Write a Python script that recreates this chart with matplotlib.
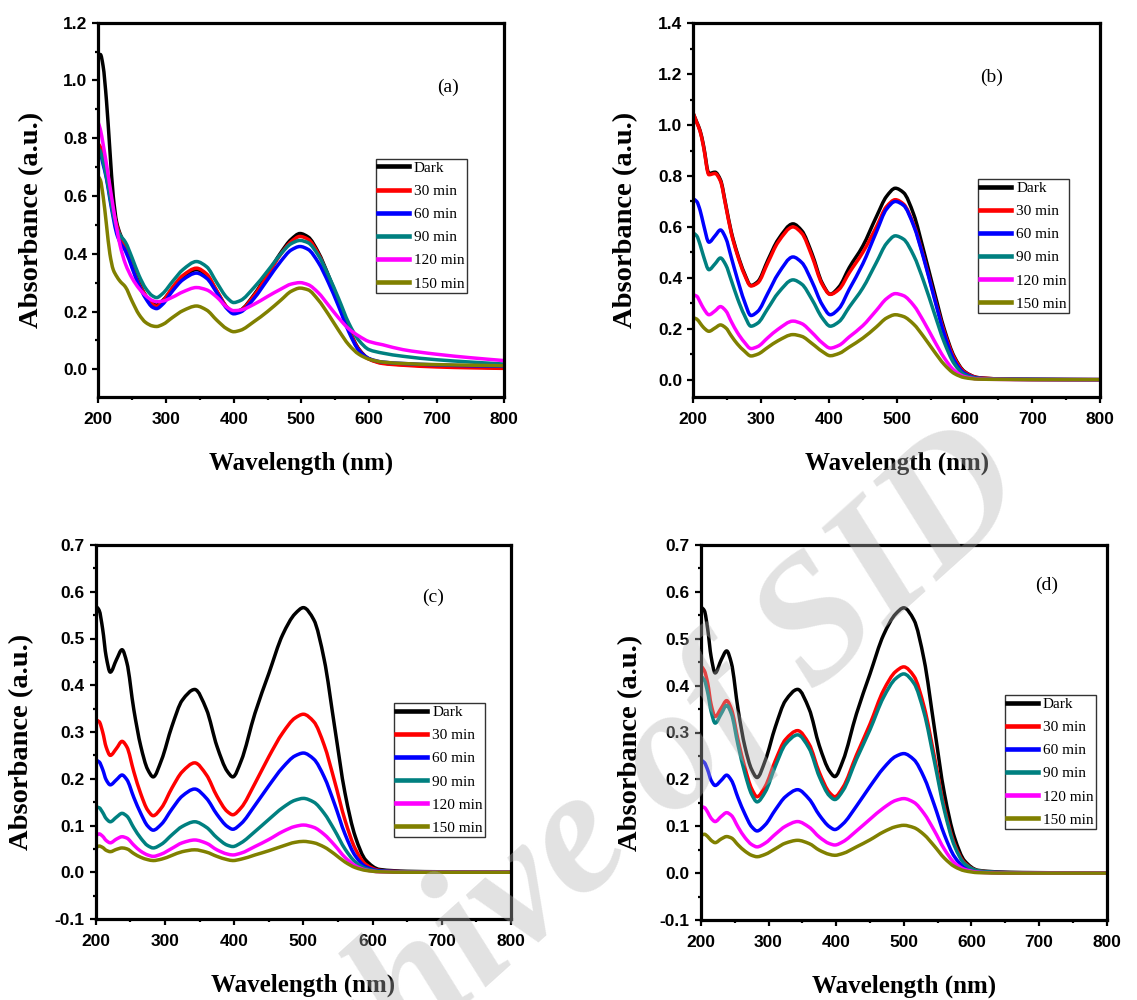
import numpy as np
import matplotlib
matplotlib.use("Agg")
import matplotlib.pyplot as plt
from matplotlib.lines import Line2D
from matplotlib.patches import PathPatch
from matplotlib.path import Path
from matplotlib.ticker import MultipleLocator

# ---- data ----
LABELS = ["Dark", "30 min", "60 min", "90 min", "120 min", "150 min"]
COLORS = ["#000000", "#ff0000", "#0000ff", "#008080", "#ff00ff", "#808000"]

# panel (a)
wl_a = [200, 203, 207, 212, 217, 222, 227, 232, 240, 250, 260, 270, 280, 286, 295,
        310, 325, 345, 360, 375, 390, 400, 410, 430, 450, 470, 485, 498, 510, 525,
        540, 555, 570, 585, 600, 620, 650, 700, 750, 800]
dark_a = [1.085, 1.09, 1.05, 0.93, 0.76, 0.60, 0.51, 0.47, 0.43, 0.36, 0.30, 0.255, 0.228, 0.222, 0.238,
          0.280, 0.318, 0.345, 0.325, 0.270, 0.215, 0.198, 0.205, 0.258, 0.330, 0.405, 0.450, 0.470, 0.458, 0.405,
          0.325, 0.235, 0.140, 0.070, 0.036, 0.022, 0.016, 0.011, 0.008, 0.005]
m30_a = [0.78, 0.77, 0.74, 0.69, 0.62, 0.55, 0.50, 0.465, 0.425, 0.355, 0.295, 0.255, 0.225, 0.218, 0.235,
         0.285, 0.325, 0.350, 0.330, 0.272, 0.215, 0.196, 0.203, 0.255, 0.325, 0.400, 0.442, 0.460, 0.450, 0.400,
         0.320, 0.232, 0.138, 0.068, 0.035, 0.020, 0.014, 0.008, 0.005, 0.003]
m60_a = [0.755, 0.745, 0.71, 0.66, 0.59, 0.525, 0.47, 0.44, 0.41, 0.35, 0.29, 0.245, 0.215, 0.210, 0.225,
         0.272, 0.310, 0.333, 0.315, 0.265, 0.210, 0.192, 0.198, 0.245, 0.310, 0.375, 0.413, 0.425, 0.415, 0.370,
         0.300, 0.218, 0.130, 0.065, 0.037, 0.025, 0.020, 0.015, 0.012, 0.010]
m90_a = [0.766, 0.755, 0.72, 0.665, 0.60, 0.535, 0.49, 0.465, 0.440, 0.385, 0.325, 0.280, 0.254, 0.248, 0.262,
         0.305, 0.345, 0.373, 0.355, 0.300, 0.248, 0.231, 0.238, 0.283, 0.340, 0.400, 0.435, 0.446, 0.438, 0.395,
         0.325, 0.245, 0.160, 0.100, 0.068, 0.056, 0.045, 0.033, 0.025, 0.018]
m120_a = [0.853, 0.830, 0.78, 0.71, 0.635, 0.56, 0.49, 0.43, 0.365, 0.315, 0.280, 0.255, 0.238, 0.234, 0.236,
          0.250, 0.268, 0.283, 0.275, 0.250, 0.215, 0.203, 0.205, 0.225, 0.252, 0.278, 0.295, 0.300, 0.293, 0.265,
          0.222, 0.178, 0.140, 0.115, 0.096, 0.085, 0.068, 0.052, 0.040, 0.030]
m150_a = [0.667, 0.655, 0.60, 0.50, 0.40, 0.345, 0.322, 0.305, 0.285, 0.235, 0.190, 0.162, 0.150, 0.148, 0.155,
          0.180, 0.203, 0.219, 0.205, 0.170, 0.140, 0.130, 0.135, 0.165, 0.200, 0.240, 0.270, 0.281, 0.275, 0.240,
          0.190, 0.135, 0.085, 0.052, 0.035, 0.025, 0.020, 0.016, 0.014, 0.012]

# panel (b)
wl_b = [200, 205, 210, 215, 223, 232, 240, 248, 256, 265, 275, 285, 295, 310, 325, 347, 360, 375,
        390, 402, 415, 430, 450, 470, 485, 498, 510, 525, 540, 555, 570, 585, 600, 620, 650, 700, 800]
dark_b = [1.045, 1.012, 0.978, 0.920, 0.810, 0.815, 0.785, 0.685, 0.580, 0.495, 0.420, 0.370, 0.385, 0.470,
          0.550, 0.612, 0.585, 0.495, 0.380, 0.336, 0.365, 0.440, 0.525, 0.640, 0.720, 0.752, 0.735, 0.650,
          0.505, 0.350, 0.200, 0.090, 0.032, 0.008, 0.003, 0.001, 0.0]
m30_b = [1.045, 1.010, 0.975, 0.915, 0.805, 0.810, 0.780, 0.680, 0.575, 0.490, 0.415, 0.368, 0.380, 0.460,
         0.540, 0.600, 0.575, 0.485, 0.375, 0.335, 0.355, 0.420, 0.500, 0.600, 0.680, 0.707, 0.690, 0.610,
         0.480, 0.330, 0.190, 0.085, 0.030, 0.008, 0.003, 0.001, 0.0]
m60_b = [0.710, 0.700, 0.665, 0.610, 0.540, 0.565, 0.588, 0.555, 0.480, 0.395, 0.310, 0.252, 0.268, 0.340,
         0.415, 0.482, 0.460, 0.385, 0.295, 0.255, 0.280, 0.355, 0.455, 0.580, 0.670, 0.700, 0.685, 0.605,
         0.475, 0.325, 0.180, 0.075, 0.025, 0.006, 0.002, 0.001, 0.0]
m90_b = [0.576, 0.565, 0.530, 0.485, 0.432, 0.455, 0.478, 0.450, 0.390, 0.320, 0.255, 0.210, 0.222, 0.280,
         0.340, 0.392, 0.375, 0.315, 0.243, 0.210, 0.228, 0.285, 0.360, 0.460, 0.535, 0.565, 0.552, 0.488,
         0.385, 0.265, 0.148, 0.062, 0.020, 0.005, 0.002, 0.001, 0.0]
m120_b = [0.333, 0.328, 0.305, 0.280, 0.255, 0.270, 0.287, 0.270, 0.228, 0.185, 0.148, 0.122, 0.130, 0.165,
          0.198, 0.230, 0.220, 0.185, 0.145, 0.124, 0.135, 0.168, 0.212, 0.272, 0.318, 0.338, 0.330, 0.292,
          0.228, 0.155, 0.086, 0.036, 0.012, 0.003, 0.001, 0.0, 0.0]
m150_b = [0.243, 0.238, 0.222, 0.205, 0.190, 0.203, 0.215, 0.203, 0.172, 0.140, 0.113, 0.093, 0.100, 0.127,
          0.153, 0.177, 0.170, 0.142, 0.111, 0.094, 0.103, 0.128, 0.163, 0.207, 0.242, 0.255, 0.248, 0.218,
          0.168, 0.112, 0.060, 0.024, 0.008, 0.002, 0.001, 0.0, 0.0]

# panels (c) and (d) share one wavelength grid
wl_cd = [200, 205, 210, 215, 221, 230, 238, 245, 255, 265, 275, 283, 295, 310, 325, 343, 360, 375,
         390, 398, 410, 430, 450, 470, 488, 500, 515, 530, 545, 560, 575, 590, 610, 650, 700, 800]
dark_c = [0.570, 0.560, 0.520, 0.462, 0.428, 0.455, 0.476, 0.448, 0.348, 0.270, 0.220, 0.204, 0.240, 0.312,
          0.368, 0.391, 0.348, 0.270, 0.216, 0.204, 0.238, 0.340, 0.425, 0.508, 0.553, 0.566, 0.540, 0.455,
          0.312, 0.170, 0.076, 0.026, 0.006, 0.002, 0.001, 0.0]
m30_c = [0.326, 0.322, 0.300, 0.268, 0.250, 0.265, 0.280, 0.268, 0.215, 0.168, 0.133, 0.121, 0.138, 0.180,
         0.215, 0.234, 0.208, 0.163, 0.130, 0.123, 0.138, 0.190, 0.247, 0.298, 0.330, 0.338, 0.322, 0.272,
         0.195, 0.112, 0.050, 0.017, 0.004, 0.001, 0.0, 0.0]
m60_c = [0.240, 0.236, 0.220, 0.198, 0.187, 0.198, 0.208, 0.198, 0.160, 0.126, 0.099, 0.090, 0.103, 0.135,
         0.163, 0.178, 0.158, 0.124, 0.098, 0.092, 0.104, 0.143, 0.185, 0.224, 0.249, 0.255, 0.242, 0.204,
         0.146, 0.082, 0.035, 0.012, 0.003, 0.001, 0.0, 0.0]
m90_c = [0.140, 0.138, 0.128, 0.115, 0.108, 0.118, 0.126, 0.120, 0.095, 0.073, 0.057, 0.052, 0.060, 0.080,
         0.098, 0.108, 0.096, 0.074, 0.058, 0.055, 0.063, 0.087, 0.113, 0.138, 0.154, 0.158, 0.150, 0.126,
         0.090, 0.050, 0.022, 0.008, 0.002, 0.001, 0.0, 0.0]
m120_c = [0.078, 0.082, 0.077, 0.068, 0.063, 0.071, 0.076, 0.073, 0.058, 0.045, 0.037, 0.034, 0.039, 0.051,
          0.063, 0.069, 0.062, 0.048, 0.039, 0.037, 0.041, 0.055, 0.070, 0.087, 0.098, 0.101, 0.096, 0.081,
          0.058, 0.032, 0.014, 0.005, 0.001, 0.0, 0.0, 0.0]
m150_c = [0.052, 0.056, 0.053, 0.047, 0.044, 0.049, 0.052, 0.050, 0.040, 0.032, 0.027, 0.025, 0.028, 0.036,
          0.044, 0.048, 0.043, 0.034, 0.027, 0.025, 0.028, 0.037, 0.046, 0.056, 0.064, 0.066, 0.063, 0.054,
          0.039, 0.022, 0.010, 0.004, 0.001, 0.0, 0.0, 0.0]

dark_d = [0.568, 0.560, 0.520, 0.462, 0.427, 0.455, 0.474, 0.448, 0.348, 0.270, 0.221, 0.204, 0.240, 0.312,
          0.368, 0.392, 0.350, 0.272, 0.218, 0.206, 0.240, 0.340, 0.425, 0.508, 0.553, 0.566, 0.540, 0.455,
          0.312, 0.170, 0.076, 0.026, 0.006, 0.002, 0.001, 0.0]
m30_d = [0.442, 0.432, 0.405, 0.360, 0.334, 0.352, 0.368, 0.350, 0.283, 0.225, 0.180, 0.163, 0.185, 0.240,
         0.285, 0.304, 0.275, 0.215, 0.172, 0.163, 0.183, 0.252, 0.318, 0.390, 0.430, 0.440, 0.420, 0.355,
         0.250, 0.140, 0.062, 0.022, 0.005, 0.001, 0.0, 0.0]
m60_d = [0.241, 0.236, 0.220, 0.198, 0.187, 0.198, 0.209, 0.198, 0.160, 0.126, 0.099, 0.090, 0.103, 0.135,
         0.163, 0.178, 0.158, 0.124, 0.099, 0.093, 0.105, 0.143, 0.185, 0.224, 0.249, 0.255, 0.242, 0.204,
         0.146, 0.082, 0.035, 0.012, 0.003, 0.001, 0.0, 0.0]
m90_d = [0.420, 0.412, 0.385, 0.345, 0.320, 0.340, 0.358, 0.340, 0.272, 0.213, 0.168, 0.152, 0.173, 0.228,
         0.275, 0.295, 0.266, 0.206, 0.165, 0.157, 0.176, 0.243, 0.306, 0.375, 0.415, 0.425, 0.405, 0.342,
         0.240, 0.134, 0.058, 0.020, 0.005, 0.001, 0.0, 0.0]
m120_d = [0.142, 0.140, 0.130, 0.117, 0.110, 0.121, 0.129, 0.123, 0.098, 0.076, 0.061, 0.056, 0.064, 0.083,
          0.100, 0.110, 0.098, 0.077, 0.063, 0.060, 0.067, 0.090, 0.115, 0.139, 0.155, 0.159, 0.151, 0.127,
          0.091, 0.051, 0.022, 0.008, 0.002, 0.0, 0.0, 0.0]
m150_d = [0.080, 0.083, 0.078, 0.070, 0.065, 0.073, 0.078, 0.075, 0.060, 0.047, 0.038, 0.035, 0.040, 0.052,
          0.064, 0.070, 0.063, 0.049, 0.040, 0.038, 0.042, 0.056, 0.071, 0.088, 0.099, 0.102, 0.097, 0.082,
          0.058, 0.032, 0.014, 0.005, 0.001, 0.0, 0.0, 0.0]

SERIF = "Liberation Serif"
SANS = "Liberation Sans"
LW = 2.5


def spline_path(x, y):
    """Smooth (monotone cubic) Bezier path through the read points, like Origin's spline connect."""
    x = np.asarray(x, float)
    y = np.asarray(y, float)
    h = np.diff(x)
    d = np.diff(y) / h
    m = np.zeros_like(y)
    m[0], m[-1] = d[0], d[-1]
    for k in range(1, len(x) - 1):
        if d[k - 1] * d[k] > 0:
            w1, w2 = 2 * h[k] + h[k - 1], h[k] + 2 * h[k - 1]
            m[k] = (w1 + w2) / (w1 / d[k - 1] + w2 / d[k])
    verts = [(x[0], y[0])]
    for i in range(len(x) - 1):
        verts += [(x[i] + h[i] / 3, y[i] + m[i] * h[i] / 3),
                  (x[i + 1] - h[i] / 3, y[i + 1] - m[i + 1] * h[i] / 3),
                  (x[i + 1], y[i + 1])]
    codes = [Path.MOVETO] + [Path.CURVE4] * (len(verts) - 1)
    return Path(verts, codes)


def draw_panel(ax, wl, curves, ylim, ymajor, yminor, tag, tag_xy, leg_xy,
               ylab_xy, xlab_y):
    for ys, c in zip(curves, COLORS):
        ax.add_patch(PathPatch(spline_path(wl, ys), fill=False, edgecolor=c,
                               lw=LW, capstyle="butt", joinstyle="round"))
    ax.set_xlim(200, 800)
    ax.set_ylim(*ylim)
    ax.xaxis.set_major_locator(MultipleLocator(100))
    ax.xaxis.set_minor_locator(MultipleLocator(50))
    ax.yaxis.set_major_locator(MultipleLocator(ymajor))
    ax.yaxis.set_minor_locator(MultipleLocator(yminor))
    ax.yaxis.set_major_formatter(lambda v, p: f"{v:.1f}" if abs(v) > 1e-9 else "0.0")
    for s in ax.spines.values():
        s.set_linewidth(2.3)
    ax.tick_params(which="both", direction="out", top=False, right=False, width=1.6)
    ax.tick_params(which="major", length=4)
    ax.tick_params(which="minor", length=2.5)
    ax.tick_params(axis="x", pad=7)
    ax.tick_params(axis="y", pad=4)
    for t in ax.get_xticklabels() + ax.get_yticklabels():
        t.set_fontfamily(SANS)
        t.set_fontweight("bold")
        t.set_fontsize(12.5)
    ax.set_xlabel("Wavelength (nm)", fontfamily=SERIF, fontweight="bold",
                  fontsize=18, va="center")
    ax.xaxis.set_label_coords(0.5, xlab_y)
    ax.set_ylabel("Absorbance (a.u.)", fontfamily=SERIF, fontweight="bold",
                  fontsize=20.5, va="center")
    ax.yaxis.set_label_coords(*ylab_xy)
    ax.text(*tag_xy, tag, transform=ax.transAxes, fontfamily=SERIF,
            fontsize=14, ha="center", va="center")
    handles = [Line2D([], [], color=c, lw=3.3, label=lab) for c, lab in zip(COLORS, LABELS)]
    leg = ax.legend(handles=handles, loc="upper left", bbox_to_anchor=leg_xy,
                    borderaxespad=0, prop={"family": SERIF, "size": 11},
                    fancybox=False, framealpha=1, edgecolor="#333333",
                    borderpad=0.15, handlelength=2.0, handletextpad=0.35,
                    labelspacing=0.62)
    leg.get_frame().set_linewidth(1.0)


fig = plt.figure(figsize=(11.37, 10), dpi=100)
ax_a = fig.add_axes([0.0865, 0.6033, 0.3571, 0.374])
ax_b = fig.add_axes([0.6098, 0.6033, 0.3577, 0.3734])
ax_c = fig.add_axes([0.0842, 0.081, 0.3653, 0.374])
ax_d = fig.add_axes([0.6165, 0.080, 0.3568, 0.375])

draw_panel(ax_a, wl_a, [dark_a, m30_a, m60_a, m90_a, m120_a, m150_a],
           (-0.095, 1.2), 0.2, 0.1, "(a)", (0.861, 0.828), (0.683, 0.636),
           (-0.164, 0.472), -0.177)
draw_panel(ax_b, wl_b, [dark_b, m30_b, m60_b, m90_b, m120_b, m150_b],
           (-0.067, 1.4), 0.2, 0.1, "(b)", (0.734, 0.856), (0.700, 0.583),
           (-0.166, 0.473), -0.177)
draw_panel(ax_c, wl_cd, [dark_c, m30_c, m60_c, m90_c, m120_c, m150_c],
           (-0.1, 0.7), 0.1, 0.05, "(c)", (0.812, 0.861), (0.718, 0.5775),
           (-0.178, 0.474), -0.176)
draw_panel(ax_d, wl_cd, [dark_d, m30_d, m60_d, m90_d, m120_d, m150_d],
           (-0.1, 0.7), 0.1, 0.05, "(d)", (0.853, 0.893), (0.749, 0.600),
           (-0.1725, 0.472), -0.177)

# diagonal watermark over the whole figure (runs off the lower-left edge, as in the source)
fig.text(595 / 1137, 1 - 838 / 1000, "Archive of SID", fontfamily=SERIF,
         fontweight="bold", fontstyle="italic", fontsize=128, color="#b3b3b3",
         alpha=0.38, rotation=42, ha="center", va="center", zorder=10)

fig.savefig("out.png", dpi=100)
